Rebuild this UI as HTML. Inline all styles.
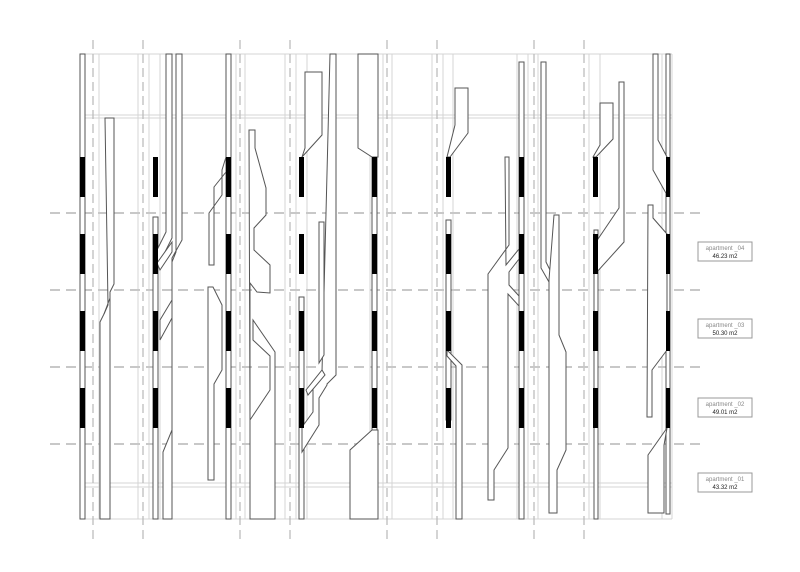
<!DOCTYPE html>
<html><head><meta charset="utf-8"><style>
html,body{margin:0;padding:0;background:#fff;width:800px;height:572px;overflow:hidden}
svg{display:block}
.g{stroke:#d4d4d4;stroke-width:1;fill:none}
.d{stroke:#bdbdbd;stroke-width:1.3;stroke-dasharray:9 5;fill:none}
.h{stroke:#c8c8c8;stroke-width:2;stroke-dasharray:10 6;fill:none}
.s{stroke:#555;stroke-width:1;fill:#fff}
.b{fill:#000}
text{font-family:"Liberation Sans",sans-serif;text-anchor:middle}
</style></head><body>
<svg width="800" height="572" viewBox="0 0 800 572" xmlns="http://www.w3.org/2000/svg">
<!-- light grid -->
<g class="g">
<line x1="80" y1="54" x2="672" y2="54"/>
<line x1="80" y1="115" x2="672" y2="115"/>
<line x1="80" y1="118" x2="672" y2="118"/>
<line x1="80" y1="483" x2="672" y2="483"/>
<line x1="80" y1="487" x2="672" y2="487"/>
<line x1="80" y1="519" x2="672" y2="519"/>
<line x1="99" y1="54" x2="99" y2="519"/>
<line x1="138" y1="54" x2="138" y2="519"/>
<line x1="149" y1="54" x2="149" y2="519"/>
<line x1="160" y1="54" x2="160" y2="519"/>
<line x1="236" y1="54" x2="236" y2="519"/>
<line x1="245" y1="54" x2="245" y2="519"/>
<line x1="285" y1="54" x2="285" y2="519"/>
<line x1="296" y1="54" x2="296" y2="519"/>
<line x1="307" y1="54" x2="307" y2="519"/>
<line x1="370" y1="54" x2="370" y2="519"/>
<line x1="383" y1="54" x2="383" y2="519"/>
<line x1="392" y1="54" x2="392" y2="519"/>
<line x1="432" y1="54" x2="432" y2="519"/>
<line x1="443" y1="54" x2="443" y2="519"/>
<line x1="453" y1="54" x2="453" y2="519"/>
<line x1="517" y1="54" x2="517" y2="519"/>
<line x1="528" y1="54" x2="528" y2="519"/>
<line x1="538" y1="54" x2="538" y2="519"/>
<line x1="589" y1="54" x2="589" y2="519"/>
<line x1="600" y1="54" x2="600" y2="519"/>
<line x1="662" y1="54" x2="662" y2="519"/>
<line x1="672" y1="54" x2="672" y2="519"/>
</g>
<!-- dashed verticals -->
<g class="d">
<line x1="93" y1="40" x2="93" y2="542"/>
<line x1="143" y1="40" x2="143" y2="542"/>
<line x1="240" y1="40" x2="240" y2="542"/>
<line x1="290" y1="40" x2="290" y2="542"/>
<line x1="387" y1="40" x2="387" y2="542"/>
<line x1="437" y1="40" x2="437" y2="542"/>
<line x1="534" y1="40" x2="534" y2="542"/>
<line x1="584" y1="40" x2="584" y2="542"/>
</g>
<!-- dashed horizontals -->
<g class="h">
<line x1="50" y1="213" x2="705" y2="213"/>
<line x1="50" y1="290" x2="705" y2="290"/>
<line x1="50" y1="367" x2="705" y2="367"/>
<line x1="50" y1="444" x2="705" y2="444"/>
</g>
<!-- thin column strips -->
<g class="s">
<rect x="80" y="54" width="5" height="465"/>
<rect x="153" y="217" width="5" height="302"/>
<rect x="226" y="54" width="5" height="465"/>
<rect x="299" y="297" width="5" height="222"/>
<rect x="372" y="54" width="5" height="465"/>
<rect x="446" y="220" width="5" height="200"/>
<rect x="519" y="62" width="5" height="457"/>
<rect x="594" y="230" width="4" height="289"/>
<rect x="666" y="54" width="4" height="460"/>
</g>
<!-- shapes -->
<g class="s">
<!-- col1 -->
<polygon points="105,118 114,118 114,284 110,292 110,519 100,519 100,322 104,314 108,305"/>
<polyline fill="none" points="104,314 110,298"/>
<!-- col2 -->
<polygon points="166,54 172,54 172,238 157,268 157,250 166,232"/>
<polygon points="176,54 182,54 182,240 172,258 172,519 163,519 163,452 172,430 172,318 160,340 160,320 172,300 172,262 176,252"/>
<polygon points="157,263 172,242 172,252 160,270"/>
<!-- col3 -->
<polygon points="226,157 226,172 214,187 214,265 209,265 209,213 222,195 222,170"/>
<polygon points="209,287 213,287 222,305 222,370 214,384 214,480 208,480 208,287"/>
<polygon points="249,130 255,130 255,148 266,188 266,215 254,228 254,250 270,265 270,293 257,292 250,283 250,519 275,519 275,352 253,320 253,340 270,356 270,390 250,420"/>
<!-- col4 -->
<polygon points="305,72 322,72 322,135 302,157 302,157 305,148 305,130"/>
<polygon points="330,54 336,54 336,375 327,384 327,385 319,398 319,425 302,452 302,427 313,412 313,385 322,372"/>
<polygon points="319,222 324,222 324,355 319,363"/>
<polygon points="306,390 322,370 325,375 308,395"/>
<!-- col5 -->
<polygon points="358,54 378,54 378,157 372,157 358,148"/>
<polygon points="350,519 350,450 372,430 378,430 378,519"/>
<!-- col6 -->
<polygon points="455,88 468,88 468,133 450,157 447,157 455,125"/>
<polygon points="447,350 462,365 462,519 456,519 456,366 447,356"/>
<!-- col7 -->
<polygon points="505,157 509,157 509,245 488,274 488,500 494,500 494,470 508,448 508,294 519,306 519,296 509,285 509,272 519,259 519,249 506,265"/>
<polygon points="541,62 546,62 546,262 555,280 549,282 541,268"/>
<polygon points="554,215 559,215 559,335 566,352 566,450 557,470 557,513 549,513 549,280"/>
<!-- col8 -->
<polygon points="600,103 613,103 613,139 596,157 593,157 600,145"/>
<polygon points="619,82 624,82 624,242 596,273 596,242 619,208"/>
<!-- col9 -->
<polygon points="653,54 658,54 658,140 667,157 667,195 653,170"/>
<polygon points="648,205 653,205 653,218 667,234 667,350 652,370 652,417 647,417"/>
<polygon points="648,455 667,428 667,428 664,445 664,513 648,513"/>
</g>
<!-- black windows -->
<g class="b">
<rect x="80" y="157" width="5" height="40"/><rect x="80" y="234" width="5" height="40"/><rect x="80" y="311" width="5" height="40"/><rect x="80" y="388" width="5" height="40"/>
<rect x="153" y="157" width="5" height="40"/><rect x="153" y="234" width="5" height="40"/><rect x="153" y="311" width="5" height="40"/><rect x="153" y="388" width="5" height="40"/>
<rect x="226" y="157" width="5" height="40"/><rect x="226" y="234" width="5" height="40"/><rect x="226" y="311" width="5" height="40"/><rect x="226" y="388" width="5" height="40"/>
<rect x="299" y="157" width="5" height="40"/><rect x="299" y="234" width="5" height="40"/><rect x="299" y="311" width="5" height="40"/><rect x="299" y="388" width="5" height="40"/>
<rect x="372" y="157" width="5" height="40"/><rect x="372" y="234" width="5" height="40"/><rect x="372" y="311" width="5" height="40"/><rect x="372" y="388" width="5" height="40"/>
<rect x="446" y="157" width="5" height="40"/><rect x="446" y="234" width="5" height="40"/><rect x="446" y="311" width="5" height="40"/><rect x="446" y="388" width="5" height="40"/>
<rect x="519" y="157" width="5" height="40"/><rect x="519" y="234" width="5" height="40"/><rect x="519" y="311" width="5" height="40"/><rect x="519" y="388" width="5" height="40"/>
<rect x="593" y="157" width="5" height="40"/><rect x="593" y="234" width="5" height="40"/><rect x="593" y="311" width="5" height="40"/><rect x="593" y="388" width="5" height="40"/>
<rect x="666" y="157" width="4" height="40"/><rect x="666" y="234" width="4" height="40"/><rect x="666" y="311" width="4" height="40"/><rect x="666" y="388" width="4" height="40"/>
</g>
<!-- labels -->
<g>
<rect x="698" y="242" width="54" height="19" fill="#fff" stroke="#999"/>
<text x="725" y="250" font-size="6" fill="#888">apartment _04</text>
<text x="725" y="258" font-size="6" fill="#222">46.23 m2</text>
<rect x="698" y="319" width="54" height="19" fill="#fff" stroke="#999"/>
<text x="725" y="327" font-size="6" fill="#888">apartment _03</text>
<text x="725" y="335" font-size="6" fill="#222">50.30 m2</text>
<rect x="698" y="398" width="54" height="19" fill="#fff" stroke="#999"/>
<text x="725" y="406" font-size="6" fill="#888">apartment _02</text>
<text x="725" y="414" font-size="6" fill="#222">49.01 m2</text>
<rect x="698" y="473" width="54" height="19" fill="#fff" stroke="#999"/>
<text x="725" y="481" font-size="6" fill="#888">apartment _01</text>
<text x="725" y="489" font-size="6" fill="#222">43.32 m2</text>
</g>
</svg>
</body></html>
